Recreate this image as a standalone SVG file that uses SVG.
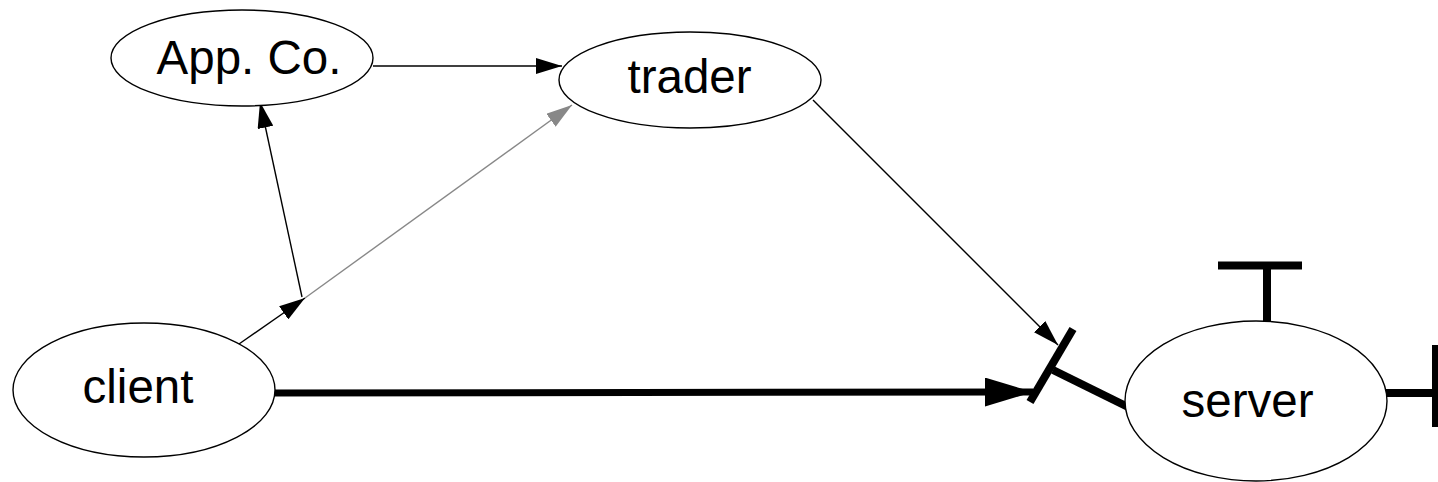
<svg xmlns="http://www.w3.org/2000/svg" width="1438" height="482" viewBox="0 0 1438 482">
<style>
.node ellipse{fill:#fff;stroke:#000;stroke-width:1.4}
.node text{font-family:"Liberation Sans",Arial,sans-serif;font-size:47.5px;text-anchor:middle;fill:#000}
.thin{stroke:#000;stroke-width:1.4;fill:none}
.grey{stroke:#888;stroke-width:1.4;fill:none}
.thick{stroke:#000;stroke-width:7;fill:none}
.bar{stroke:#000;stroke-width:8;fill:none}
</style>
<defs>
<marker id="arr" viewBox="0 0 26 16" markerWidth="26" markerHeight="16" refX="26" refY="8" orient="auto" markerUnits="userSpaceOnUse"><path d="M0,0 L26,8 L0,16 Z" fill="#000"/></marker>
<marker id="arrg" viewBox="0 0 26 16" markerWidth="26" markerHeight="16" refX="26" refY="8" orient="auto" markerUnits="userSpaceOnUse"><path d="M0,0 L26,8 L0,16 Z" fill="#888"/></marker>
<marker id="arrb" viewBox="0 0 48 29" markerWidth="48" markerHeight="29" refX="48" refY="14.5" orient="auto" markerUnits="userSpaceOnUse"><path d="M0,0 L48,14.5 L0,29 Z" fill="#000"/></marker>
</defs>
<rect width="1438" height="482" fill="#fff"/>
<g id="connectors">
<line class="thin" x1="373" y1="66" x2="562" y2="66" marker-end="url(#arr)"/>
<line class="thin" x1="239" y1="344" x2="305" y2="298" marker-end="url(#arr)"/>
<line class="thin" x1="302" y1="297" x2="260" y2="102" marker-end="url(#arr)"/>
<line class="grey" x1="305" y1="298" x2="572" y2="105" marker-end="url(#arrg)"/>
<line class="thin" x1="813" y1="100" x2="1058" y2="345" marker-end="url(#arr)"/>
<line class="thick" x1="266" y1="393" x2="1033" y2="392" marker-end="url(#arrb)"/>
<line class="bar" x1="1073" y1="329" x2="1030" y2="402"/>
<line class="bar" x1="1053" y1="370" x2="1128" y2="407"/>
<line class="bar" x1="1218" y1="265.5" x2="1302" y2="265.5"/>
<line class="bar" x1="1267" y1="265" x2="1267" y2="321"/>
<line class="bar" x1="1386" y1="393" x2="1437" y2="393"/>
<line class="bar" x1="1436" y1="345" x2="1436" y2="427"/>
</g>
<g id="appco" class="node">
<ellipse cx="242" cy="58" rx="131" ry="48"/>
<text x="249" y="74">App. Co.</text>
</g>
<g id="trader" class="node">
<ellipse cx="690" cy="80" rx="131" ry="48"/>
<text x="689.5" y="93">trader</text>
</g>
<g id="client" class="node">
<ellipse cx="144" cy="390" rx="131" ry="67"/>
<text x="138" y="403">client</text>
</g>
<g id="server" class="node">
<ellipse cx="1256" cy="401" rx="131" ry="80"/>
<text x="1247.5" y="417">server</text>
</g>
</svg>
